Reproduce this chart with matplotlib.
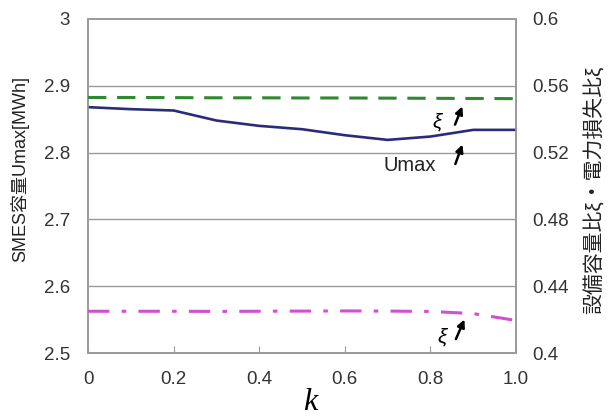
import matplotlib
matplotlib.use("Agg")
import matplotlib.pyplot as plt

# data
k = [0.0, 0.1, 0.2, 0.3, 0.4, 0.5, 0.6, 0.7, 0.8, 0.9, 1.0]
umax = [2.868, 2.865, 2.863, 2.848, 2.840, 2.835, 2.826, 2.819, 2.824, 2.834, 2.834]
xi_cap = [0.5530, 0.5530, 0.5529, 0.5528, 0.5528, 0.5527, 0.5527, 0.5526, 0.5525, 0.5524, 0.5523]
xi_loss = [0.4250, 0.4250, 0.4250, 0.4249, 0.4250, 0.4251, 0.4252, 0.4251, 0.4249, 0.4236, 0.4195]

x_ticks = [0, 0.2, 0.4, 0.6, 0.8, 1.0]
x_ticklabels = ["0", "0.2", "0.4", "0.6", "0.8", "1.0"]
left_ticks = [2.5, 2.6, 2.7, 2.8, 2.9, 3.0]
left_ticklabels = ["2.5", "2.6", "2.7", "2.8", "2.9", "3"]
right_ticks = [0.4, 0.44, 0.48, 0.52, 0.56, 0.6]
right_ticklabels = ["0.4", "0.44", "0.48", "0.52", "0.56", "0.6"]

jp = ["Liberation Sans", "Noto Sans CJK JP", "DejaVu Sans"]
plt.rcParams["font.family"] = jp

fig = plt.figure(figsize=(6.13, 4.16), dpi=100)
ax = fig.add_axes([0.1436, 0.1514, 0.6982, 0.8030])
ax2 = ax.twinx()

grid_c = "#9a9a9a"
txt_c = "#333333"
ax.set_xlim(0, 1.0)
ax.set_ylim(2.5, 3.0)
ax2.set_ylim(0.4, 0.6)
for y in left_ticks[1:-1]:
    ax.axhline(y, color=grid_c, lw=1.0, zorder=0)

ax.plot(k, umax, color="#2b2b7a", lw=1.9, zorder=3)
ax2.plot(k, xi_cap, color="#2f8a2f", lw=2.2, ls=(0, (6, 3.5)), zorder=3)
ax2.plot(k, xi_loss, color="#d050d0", lw=2.2, ls=(0, (7, 4, 1.5, 4)), zorder=3)

for a in (ax, ax2):
    for s in a.spines.values():
        s.set_color(grid_c)
        s.set_linewidth(1.2)

ax.set_xticks(x_ticks)
ax.set_xticklabels(x_ticklabels, fontsize=13.5, color=txt_c)
ax.tick_params(axis="x", direction="in", length=5, color=grid_c, pad=13)
ax.set_yticks(left_ticks)
ax.set_yticklabels(left_ticklabels, fontsize=13.5, color=txt_c)
ax.tick_params(axis="y", length=0, pad=13)
ax2.set_yticks(right_ticks)
ax2.set_yticklabels(right_ticklabels, fontsize=13.5, color=txt_c)
ax2.tick_params(axis="y", length=0, pad=12)

ax.set_ylabel("SMES容量Umax[MWh]", fontsize=13, color="#222222")
ax.yaxis.set_label_coords(-0.138, 0.55)
ax2.set_ylabel("設備容量比ξ・電力損失比ξ", fontsize=15, color="#222222", rotation=90)
ax2.yaxis.set_label_coords(1.157, 0.49)
ax.set_xlabel("k", fontsize=23, family="Liberation Serif", style="italic")
ax.xaxis.set_label_coords(0.52, -0.105)

arrow = dict(arrowstyle="-|>", color="black", lw=1.8, mutation_scale=11)
ax.text(0.815, 2.846, "ξ", fontsize=15, ha="center", va="center", style="italic")
ax.annotate("", xy=(0.877, 2.873), xytext=(0.855, 2.838), arrowprops=arrow)
ax.text(0.752, 2.781, "Umax", fontsize=14.5, ha="center", va="center", color="#222222")
ax.annotate("", xy=(0.877, 2.816), xytext=(0.856, 2.779), arrowprops=arrow)
ax.text(0.827, 2.524, "ξ", fontsize=15, ha="center", va="center", style="italic")
ax.annotate("", xy=(0.882, 2.554), xytext=(0.857, 2.517), arrowprops=arrow)

fig.savefig("out.png", dpi=100)
